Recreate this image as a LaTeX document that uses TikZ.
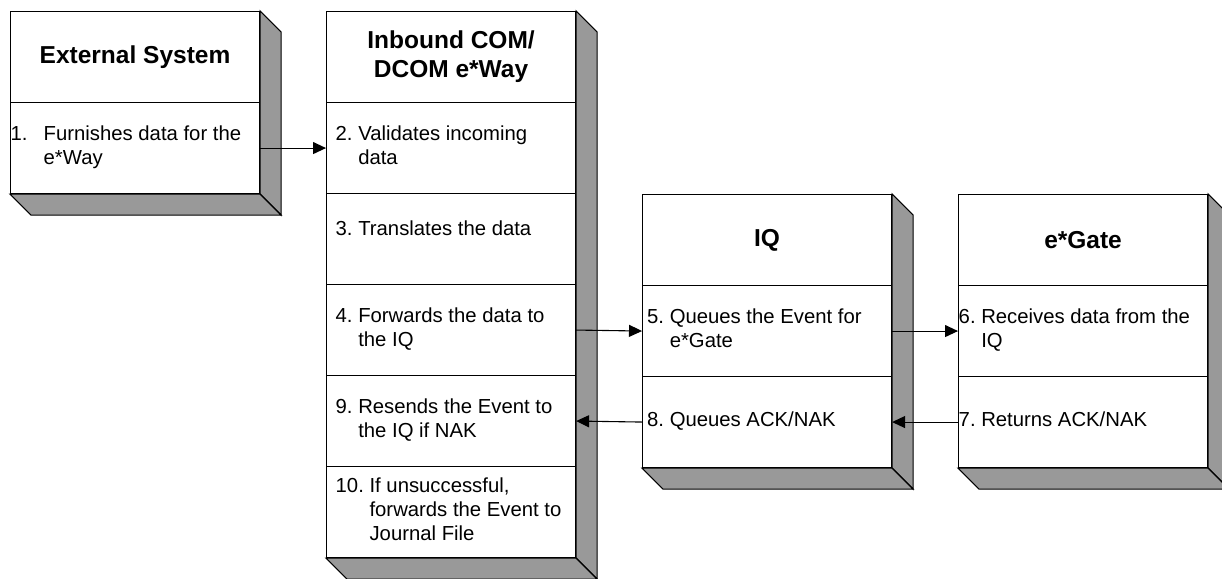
\documentclass[tikz,border=0pt]{standalone}
\usepackage{fontspec}
\setmainfont{Liberation Sans}
\usetikzlibrary{arrows.meta,calc}
\definecolor{shade}{RGB}{153,153,153}
\newcommand{\stp}[2]{\begin{tabular}{@{}l@{\ }l@{}}#1. & #2\end{tabular}}
\begin{document}
\begin{tikzpicture}[x=1pt,y=-1pt,
  sect/.style={draw=black,line width=1.1pt,fill=white,rectangle,inner sep=0pt,
    minimum width=249pt,minimum height=91pt,anchor=north west},
  head/.style={font=\fontsize{24.5}{29}\selectfont\bfseries,align=center},
  body/.style={font=\fontsize{20.3}{24}\selectfont,anchor=west,inner sep=0pt,align=left},
  shadow/.style={fill=shade,draw=black,line width=1.1pt,line join=miter},
  flow/.style={line width=1.1pt,-{Triangle[length=13pt,width=12pt]}}]
\useasboundingbox (0,0) rectangle (1222,578);
\clip (0,0) rectangle (1222,578);

% External System
\node[sect,head] (ext0) at (10,11) {External System};
\node[sect] (ext1) at (10,102) {};
\node[body] (ext1t) at ([xshift=0.5pt]ext1.west) {\begin{tabular}{@{}p{33pt}@{}l@{}}1. & Furnishes data for the\\ & e*Way\end{tabular}};

% Inbound COM/DCOM e*Way
\node[sect,head] (inb0) at (326,11) {Inbound COM/\\DCOM e*Way};
\node[sect] (inb2) at (326,102) {};
\node[sect] (inb3) at (326,193) {};
\node[sect] (inb4) at (326,284) {};
\node[sect] (inb9) at (326,375) {};
\node[sect] (inb10) at (326,466) {};
\node[body] (inb2t) at ([xshift=9.5pt]inb2.west) {\stp{2}{Validates incoming\\ & data}};
\node[body,yshift=8pt] (inb3t) at ([xshift=9.5pt]inb3.west) {\stp{3}{Translates the data}};
\node[body] (inb4t) at ([xshift=9.5pt]inb4.west) {\stp{4}{Forwards the data to\\ & the IQ}};
\node[body] (inb9t) at ([xshift=9.5pt]inb9.west) {\stp{9}{Resends the Event to\\ & the IQ if NAK}};
\node[body] (inb10t) at ([xshift=9.5pt]inb10.west) {\stp{10}{If unsuccessful,\\ & forwards the Event to\\ & Journal File}};

% IQ
\node[sect,head] (iq0) at (642,194) {IQ};
\node[sect] (iq5) at (642,285) {};
\node[sect] (iq8) at (642,376) {};
\node[body] (iq5t) at ([xshift=5pt]iq5.west) {\stp{5}{Queues the Event for\\ & e*Gate}};
\node[body] (iq8t) at ([xshift=5pt]iq8.west) {\stp{8}{Queues ACK/NAK}};

% e*Gate
\node[sect,head] (eg0) at (958,194) {e*Gate};
\node[sect] (eg6) at (958,285) {};
\node[sect] (eg7) at (958,376) {};
\node[body] (eg6t) at ([xshift=0.5pt]eg6.west) {\stp{6}{Receives data from the\\ & IQ}};
\node[body] (eg7t) at ([xshift=0.5pt]eg7.west) {\stp{7}{Returns ACK/NAK}};

% 3D sides
\foreach \t/\b in {ext0/ext1, inb0/inb10, iq0/iq8, eg0/eg7}{
  \draw[shadow] (\t.north east) -- ($(\t.north east)+(21,21)$) -- ($(\b.south east)+(21,21)$) -- (\b.south east) -- cycle;
  \draw[shadow] (\b.south west) -- ($(\b.south west)+(21,21)$) -- ($(\b.south east)+(21,21)$) -- (\b.south east) -- cycle;
}

% connectors
\draw[flow] (ext1.east) -- (inb2.west);
\draw[flow] (inb4.east) -- (iq5.west);
\draw[flow] (iq5.east) -- (eg6.west);
\draw[flow] (eg7.west) -- (iq8.east);
\draw[flow] (iq8.west) -- (inb9.east);
\end{tikzpicture}
\end{document}
